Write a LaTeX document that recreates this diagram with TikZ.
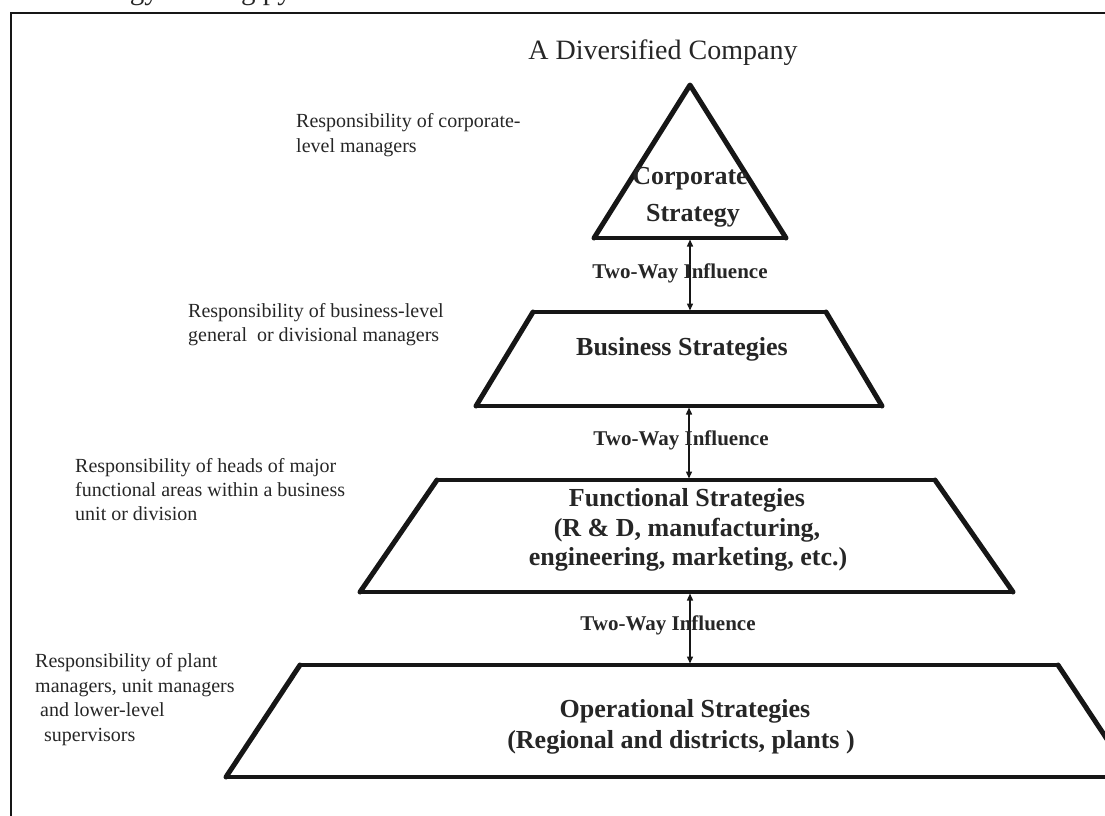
\documentclass[tikz,border=0pt]{standalone}
\usepackage{fontspec}
\setmainfont{Liberation Serif}
\usetikzlibrary{arrows.meta}
\definecolor{ink}{HTML}{161616}
\definecolor{txt}{HTML}{262626}

\begin{document}
\begin{tikzpicture}[x=1pt,y=-1pt,
  frame/.style={line width=2.4pt, draw=ink},
  flat/.style={line width=3.4pt, line cap=round, draw=ink},
  slant/.style={line width=5pt, line cap=round, line join=round, draw=ink},
  note/.style={anchor=base west, inner sep=0pt, text=txt, font=\fontsize{20}{24}\selectfont},
  boxtext/.style={anchor=base, inner sep=0pt, text=txt, font=\bfseries\fontsize{26}{30}\selectfont},
  flow/.style={line width=1.4pt, draw=ink, shorten <=1.5pt, shorten >=1.5pt,
    {Triangle[length=7pt,width=6pt]}-{Triangle[length=7pt,width=6pt]}},
  flowlabel/.style={anchor=base, inner sep=0pt, text=txt, font=\bfseries\fontsize{21}{24}\selectfont}
]
\useasboundingbox (0,0) rectangle (1105,815);
\begin{scope}
\clip (0,0) rectangle (1105,815);

% caption line running off the top edge
\node[anchor=base west, inner sep=0pt, text=txt, font=\fontsize{29}{30}\selectfont]
  (caption) at (62,-1) {Strategy-making pyramid};

% frame
\draw[frame] (11,820) -- (11,13) -- (1110,13);

% title
\node[anchor=base, inner sep=0pt, text=txt, font=\fontsize{28}{30}\selectfont]
  (title) at (663,59) {A Diversified Company};

% corporate level
\coordinate (cApex) at (690,85);
\coordinate (cBL) at (594,238);
\coordinate (cBR) at (786,238);
\coordinate (cBot) at (690,238);
\draw[slant] (cBL) -- (cApex) -- (cBR);
\draw[flat] (cBL) -- (cBR);

% business level
\coordinate (bTL) at (533,312);
\coordinate (bTR) at (826,312);
\coordinate (bBL) at (476,406);
\coordinate (bBR) at (882,406);
\coordinate (bTop) at (690,312);
\coordinate (bBot) at (689,406);
\draw[slant] (bTL) -- (bBL);
\draw[slant] (bTR) -- (bBR);
\draw[flat] (bTL) -- (bTR);
\draw[flat] (bBL) -- (bBR);

% functional level
\coordinate (fTL) at (437,480);
\coordinate (fTR) at (935,480);
\coordinate (fBL) at (360,592);
\coordinate (fBR) at (1013,592);
\coordinate (fTop) at (689,480);
\coordinate (fBot) at (690,592);
\draw[slant] (fTL) -- (fBL);
\draw[slant] (fTR) -- (fBR);
\draw[flat] (fTL) -- (fTR);
\draw[flat] (fBL) -- (fBR);

% operational level
\coordinate (oTL) at (300,665);
\coordinate (oTR) at (1058,665);
\coordinate (oBL) at (226,777);
\coordinate (oBR) at (1132,777);
\coordinate (oTop) at (690,665);
\draw[slant] (oTL) -- (oBL);
\draw[slant] (oTR) -- (oBR);
\draw[flat] (oTL) -- (oTR);
\draw[flat] (oBL) -- (oBR);

% two-way influence links
\draw[flow] (cBot) -- (bTop);
\draw[flow] (bBot) -- (fTop);
\draw[flow] (fBot) -- (oTop);
\node[flowlabel] (inf1) at (680,278) {Two-Way Influence};
\node[flowlabel] (inf2) at (681,445) {Two-Way Influence};
\node[flowlabel] (inf3) at (668,630) {Two-Way Influence};

% level titles
\node[boxtext] (corp1) at (690,184) {Corporate};
\node[boxtext] (corp2) at (693,221) {Strategy};
\node[boxtext] (bus) at (682,355) {Business Strategies};
\node[boxtext] (fun1) at (687,506) {Functional Strategies};
\node[boxtext] (fun2) at (687,536) {(R \& D, manufacturing,};
\node[boxtext] (fun3) at (688,565) {engineering, marketing, etc.)};
\node[boxtext] (op1) at (685,717) {Operational Strategies};
\node[boxtext] (op2) at (681,748) {(Regional and districts, plants )};

% responsibilities
\node[note] (r1a) at (296,127) {Responsibility of corporate-};
\node[note] (r1b) at (296,152) {level managers};
\node[note] (r2a) at (188,317) {Responsibility of business-level};
\node[note] (r2b) at (188,341) {general\ \ or divisional managers};
\node[note] (r3a) at (75,472) {Responsibility of heads of major};
\node[note] (r3b) at (75,496) {functional areas within a business};
\node[note] (r3c) at (75,520) {unit or division};
\node[note] (r4a) at (35,667) {Responsibility of plant};
\node[note] (r4b) at (35,692) {managers, unit managers};
\node[note] (r4c) at (40,716) {and lower-level};
\node[note] (r4d) at (44,741) {supervisors};
\end{scope}
\end{tikzpicture}
\end{document}
